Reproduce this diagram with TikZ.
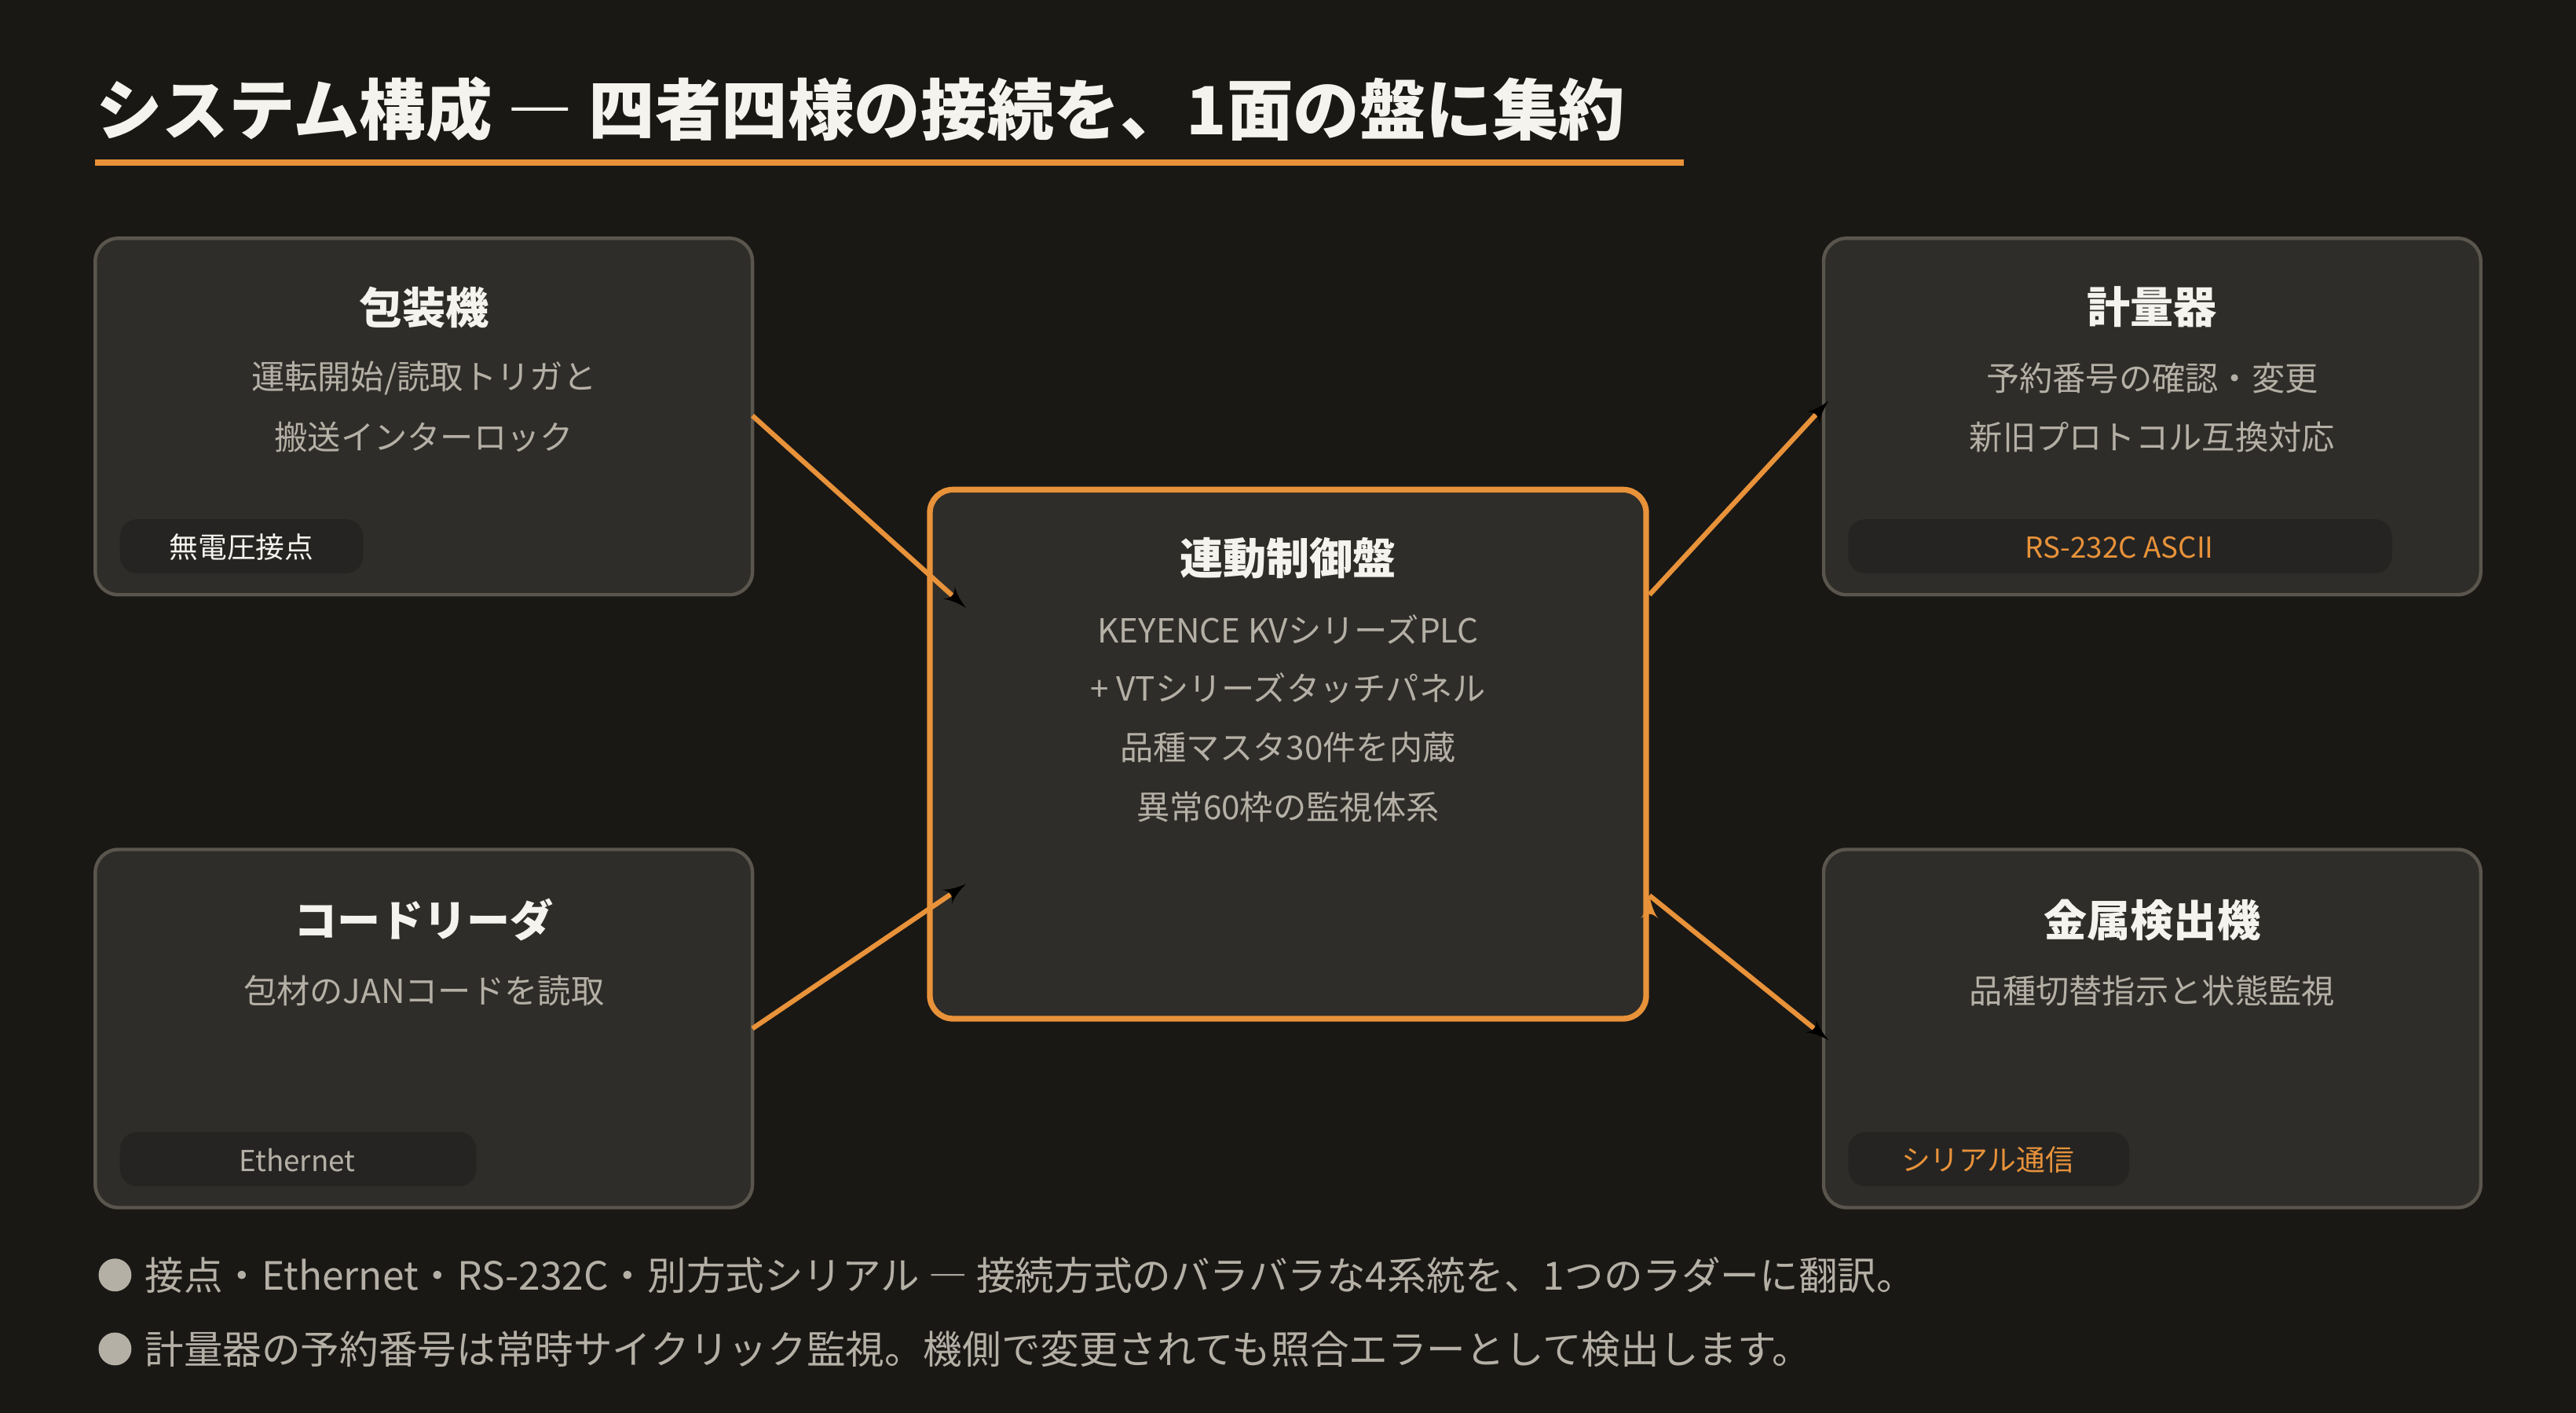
\documentclass[tikz,border=0pt]{standalone}
\usepackage{fontspec}
\setmainfont{Noto Sans CJK JP}
\usetikzlibrary{arrows,positioning}
\definecolor{bgc}{HTML}{1A1815}
\definecolor{boxc}{HTML}{2F2D29}
\definecolor{edgec}{HTML}{5A554D}
\definecolor{tagc}{HTML}{252422}
\definecolor{orng}{HTML}{E8923A}
\definecolor{greyt}{HTML}{B5B0A6}
\definecolor{whitet}{HTML}{F5F3EE}
\begin{document}
\begin{tikzpicture}[x=0.02cm,y=-0.02cm,>=latex']
        \tikzset{box/.style={draw=edgec, line width=1.2pt, fill=boxc, rounded corners=8pt},
        hub/.style={draw=orng, line width=2pt, fill=boxc, rounded corners=8pt},
        tag/.style={fill=tagc, rounded corners=6pt},
        head/.style={text=whitet, font=\bfseries\fontsize{15}{18}\selectfont},
        body/.style={text=greyt, font=\fontsize{11.5}{14}\selectfont},
        tagtext/.style={font=\fontsize{10}{12}\selectfont},
        link/.style={draw=orng, line width=1.7pt, ->},
        note/.style={text=greyt, font=\fontsize{13.5}{16}\selectfont, anchor=west}
        }
        \fill[bgc] (0,0) rectangle (1568,860);
%% title
        \node[anchor=base west, text=whitet, font=\bfseries\fontsize{23}{28}\selectfont, inner sep=0] (title) at (58,82) {システム構成 ― 四者四様の接続を、1面の盤に集約};
        \draw[orng, line width=2.3pt] (58,99) -- (1025,99);
%% boxes
        \draw[box] (58,145) rectangle (458,362);
        \draw[box] (58,517) rectangle (458,735);
        \draw[box] (1110,145) rectangle (1510,362);
        \draw[box] (1110,517) rectangle (1510,735);
        \draw[hub] (566,298) rectangle (1002,620);
        \fill[tag] (73,316) rectangle (221,349);
        \fill[tag] (1125,316) rectangle (1456,349);
        \fill[tag] (73,689) rectangle (290,722);
        \fill[tag] (1125,689) rectangle (1296,722);
%% texts
        \node[head] (packer) at (258,187) {包装機};
        \node[body] (packer1) at (258,230) {運転開始/読取トリガと};
        \node[body] (packer2) at (258,266) {搬送インターロック};
        \node[tagtext, text=whitet] (packertag) at (147,333) {無電圧接点};
        \node[head] (scale) at (1310,187) {計量器};
        \node[body] (scale1) at (1310,230) {予約番号の確認・変更};
        \node[body] (scale2) at (1310,266) {新旧プロトコル互換対応};
        \node[tagtext, text=orng] (scaletag) at (1290,333) {RS-232C ASCII};
        \node[head] (reader) at (258,560) {コードリーダ};
        \node[body] (reader1) at (258,603) {包材のJANコードを読取};
        \node[tagtext, text=greyt] (readertag) at (181,706) {Ethernet};
        \node[head] (metal) at (1310,560) {金属検出機};
        \node[body] (metal1) at (1310,603) {品種切替指示と状態監視};
        \node[tagtext, text=orng] (metaltag) at (1210,706) {シリアル通信};
        \node[head] (plc) at (784,340) {連動制御盤};
        \node[body] (plc1) at (784,383) {KEYENCE KVシリーズPLC};
        \node[body] (plc2) at (784,419) {+ VTシリーズタッチパネル};
        \node[body] (plc3) at (784,455) {品種マスタ30件を内蔵};
        \node[body] (plc4) at (784,491) {異常60枠の監視体系};
%% links
        \coordinate (pkA) at (458,253); \coordinate (pkB) at (588,370);
        \coordinate (rdA) at (458,626); \coordinate (rdB) at (588,538);
        \coordinate (scA) at (1004,362); \coordinate (scB) at (1113,244);
        \coordinate (mdA) at (1004,545); \coordinate (mdB) at (1113,633);
        \path[link] (pkA) edge (pkB)
                    (rdA) edge (rdB)
                    (scA) edge (scB)
                    (mdA) edge (mdB);
%% notes
        \fill[greyt] (70,776) circle (10);
        \fill[greyt] (70,821) circle (10);
        \node[note] (note1) at (82,776) {接点・Ethernet・RS-232C・別方式シリアル ― 接続方式のバラバラな4系統を、1つのラダーに翻訳。};
        \node[note] (note2) at (82,821) {計量器の予約番号は常時サイクリック監視。機側で変更されても照合エラーとして検出します。};
\end{tikzpicture}
\end{document}
